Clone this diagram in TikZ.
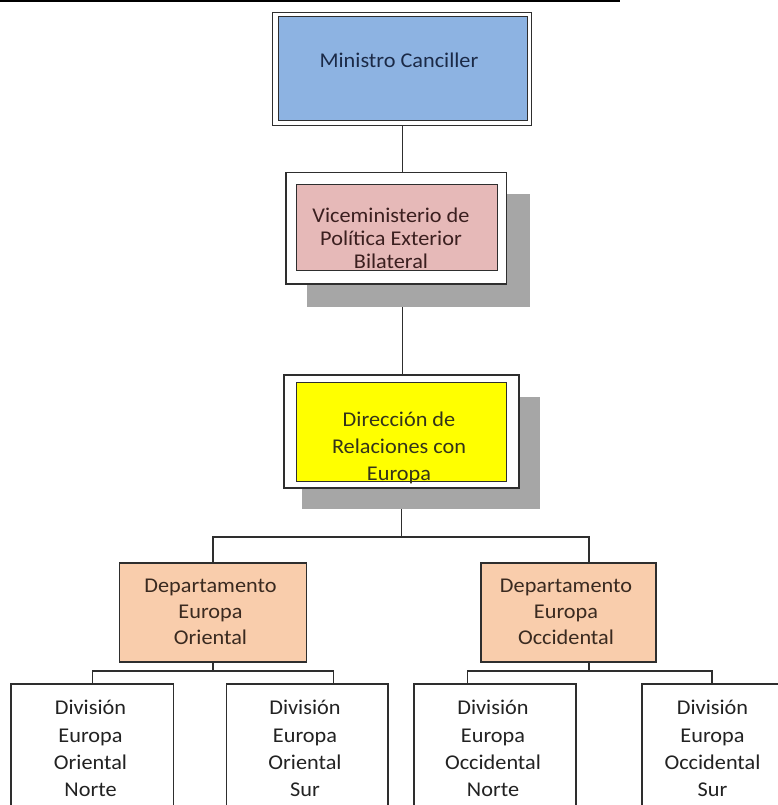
\documentclass[tikz,border=0pt]{standalone}
\usepackage{fontspec}
\setmainfont{Carlito}[FakeStretch=1.06]
\definecolor{linegray}{HTML}{2E2E2E}
\definecolor{shadowgray}{HTML}{A6A6A6}
\definecolor{ministroblue}{HTML}{8DB3E2}
\definecolor{vicepink}{HTML}{E6B9B8}
\definecolor{diryellow}{HTML}{FFFF00}
\definecolor{deptpeach}{HTML}{F9CDAC}
\definecolor{navytext}{HTML}{1B2A47}
\definecolor{redtext}{HTML}{3B1F1F}
\definecolor{olivetext}{HTML}{33331A}
\definecolor{browntext}{HTML}{3A2A20}
\definecolor{darktext}{HTML}{222222}
\pgfdeclarelayer{background}
\pgfsetlayers{background,main}
\begin{document}
\begin{tikzpicture}[x=1pt,y=-1pt,
  conn/.style={draw=linegray, line width=1.2pt},
  frame/.style={rectangle, draw=linegray, line width=1.3pt, inner sep=0pt, outer sep=0pt},
  thinframe/.style={rectangle, draw=linegray, line width=0.9pt, inner sep=0pt, outer sep=0pt},
  dropshade/.style={rectangle, fill=shadowgray, inner sep=0pt, outer sep=0pt},
  lbl/.style={inner sep=0pt, align=center},
]
\useasboundingbox (0,0) rectangle (778,805);
\clip (0,0) rectangle (778,805);

% rule across the top
\draw[line width=1.5pt, black] (0,1) -- (620,1);

% Ministro Canciller: double frame
\node[thinframe, fill=white, minimum width=259pt, minimum height=112.7pt] (mini) at (402.2,68.65) {};
\node[frame, fill=ministroblue, minimum width=249pt, minimum height=104pt] (miniIn) at (402.8,68.7) {};
\node[lbl, text=navytext, font=\fontsize{21}{23}\selectfont] (miniT) at (399,60) {Ministro Canciller};

% Viceministerio
\node[dropshade, minimum width=223.3pt, minimum height=112.4pt] (viceSh) at (418.35,250.5) {};
\node[frame, fill=white, minimum width=220.7pt, minimum height=111.7pt] (vice) at (396.35,228.15) {};
\node[frame, fill=vicepink, minimum width=201pt, minimum height=86.4pt] (viceIn) at (397.2,227.5) {};
\node[lbl, text=redtext, font=\fontsize{21}{23}\selectfont] (viceT) at (391,238.5) {Viceministerio de\\Política Exterior\\Bilateral};

% Direccion
\node[dropshade, minimum width=237.7pt, minimum height=112pt] (dirSh) at (421.2,453) {};
\node[frame, fill=white, minimum width=235pt, minimum height=113pt] (dir) at (401.5,431.5) {};
\node[frame, fill=diryellow, minimum width=210pt, minimum height=99.4pt] (dirIn) at (401.7,432) {};
\node[lbl, text=olivetext, font=\fontsize{21}{27}\selectfont] (dirT) at (399,447.5) {Dirección de\\Relaciones con\\Europa};

% Departamentos
\node[frame, fill=deptpeach, minimum width=187pt, minimum height=99pt] (deptO) at (213,612.5) {};
\node[lbl, text=browntext, font=\fontsize{21}{26}\selectfont] (deptOT) at (210.5,612) {Departamento\\Europa\\Oriental};
\node[frame, fill=deptpeach, minimum width=175pt, minimum height=99pt] (deptOcc) at (568.5,612.5) {};
\node[lbl, text=browntext, font=\fontsize{21}{26}\selectfont] (deptOccT) at (566,612) {Departamento\\Europa\\Occidental};

% Divisiones
\node[frame, fill=white, minimum width=162.5pt, minimum height=146pt] (div1) at (92.25,757) {};
\node[frame, fill=white, minimum width=161.5pt, minimum height=146pt] (div2) at (307.25,757) {};
\node[frame, fill=white, minimum width=162pt, minimum height=146pt] (div3) at (495,757) {};
\node[frame, fill=white, minimum width=142pt, minimum height=146pt] (div4) at (713,757) {};
\begin{scope}[every node/.style={lbl, text=darktext, font=\fontsize{21}{27.3}\selectfont}]
\node (div1T) at (90.5,748.5) {División\\Europa\\Oriental\\Norte};
\node (div2T) at (305,748.5) {División\\Europa\\Oriental\\Sur};
\node (div3T) at (493,748.5) {División\\Europa\\Occidental\\Norte};
\node (div4T) at (712.5,748.5) {División\\Europa\\Occidental\\Sur};
\end{scope}

% junction points of the connector buses
\coordinate (bus) at (401.5,537);
\coordinate (busO) at (213,671);
\coordinate (busOcc) at (589,671);

% connectors, kept behind boxes and shadows
\begin{pgfonlayer}{background}
\draw[conn] (mini.south) -- (mini.south |- dir.north);
\draw[conn] (dir.south) -- (bus);
\draw[conn] (deptO.north) |- (bus) -| ([xshift=20.5pt]deptOcc.north);
\draw[conn] (deptO.south) -- (busO);
\draw[conn] (div1.north) |- (busO) -| ([xshift=26.25pt]div2.north);
\draw[conn] ([xshift=20.5pt]deptOcc.south) -- (busOcc);
\draw[conn] ([xshift=-27.5pt]div3.north) |- (busOcc) -| ([xshift=-1pt]div4.north);
\end{pgfonlayer}
\end{tikzpicture}
\end{document}
